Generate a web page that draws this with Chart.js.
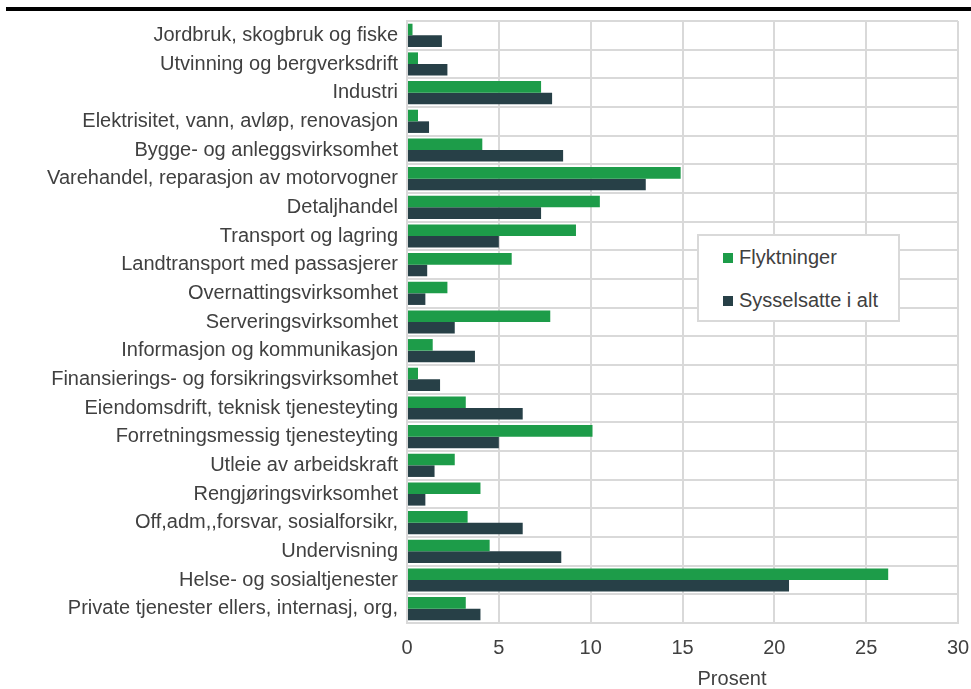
<!DOCTYPE html>
<html>
<head>
<meta charset="utf-8">
<script src="https://cdn.jsdelivr.net/npm/chart.js@4/dist/chart.umd.min.js"></script>
<style>
  html, body { margin: 0; padding: 0; background: #fff; }
  #wrap { position: relative; width: 971px; height: 689px; font-family: "Liberation Sans", Arial, sans-serif; color: #404040; }
  #topline { position: absolute; left: 6px; right: 0; top: 7px; height: 4px; background: #000; }
  #legend { position: absolute; left: 697px; top: 234px; width: 199px; height: 84px; border: 2px solid #d9d9d9; background: #fff; }
  .item { position: absolute; left: 24px; font-size: 20px; line-height: 24px; white-space: nowrap; }
  .item i { display: inline-block; width: 10px; height: 10px; margin-right: 6px; vertical-align: 1px; }
  #xtitle { position: absolute; left: 0; width: 1464px; top: 666px; text-align: center; font-size: 20px; line-height: 24px; }
</style>
</head>
<body>
<div id="wrap">
  <canvas id="c" width="971" height="689"></canvas>
  <div id="topline"></div>
  <div id="legend">
    <div class="item" style="top:9px"><i style="background:#1d9c49"></i>Flyktninger</div>
    <div class="item" style="top:52px"><i style="background:#274047"></i>Sysselsatte i alt</div>
  </div>
  <div id="xtitle">Prosent</div>
</div>
<script>
const categories = [
  'Jordbruk, skogbruk og fiske',
  'Utvinning og bergverksdrift',
  'Industri',
  'Elektrisitet, vann, avløp, renovasjon',
  'Bygge- og anleggsvirksomhet',
  'Varehandel, reparasjon av motorvogner',
  'Detaljhandel',
  'Transport og lagring',
  'Landtransport med passasjerer',
  'Overnattingsvirksomhet',
  'Serveringsvirksomhet',
  'Informasjon og kommunikasjon',
  'Finansierings- og forsikringsvirksomhet',
  'Eiendomsdrift, teknisk tjenesteyting',
  'Forretningsmessig tjenesteyting',
  'Utleie av arbeidskraft',
  'Rengjøringsvirksomhet',
  'Off,adm,,forsvar, sosialforsikr,',
  'Undervisning',
  'Helse- og sosialtjenester',
  'Private tjenester ellers, internasj, org,'
];
const flyktninger = [0.3, 0.6, 7.3, 0.6, 4.1, 14.9, 10.5, 9.2, 5.7, 2.2, 7.8, 1.4, 0.6, 3.2, 10.1, 2.6, 4.0, 3.3, 4.5, 26.2, 3.2];
const sysselsatte = [1.9, 2.2, 7.9, 1.2, 8.5, 13.0, 7.3, 5.0, 1.1, 1.0, 2.6, 3.7, 1.8, 6.3, 5.0, 1.5, 1.0, 6.3, 8.4, 20.8, 4.0];
const xTicks = [0, 5, 10, 15, 20, 25, 30];

const gridColor = '#d9d9d9';
const textColor = '#404040';
const font = { family: '"Liberation Sans", Arial, sans-serif', size: 20 };

new Chart(document.getElementById('c'), {
  type: 'bar',
  data: {
    labels: categories,
    datasets: [
      { label: 'Flyktninger', data: flyktninger, backgroundColor: '#1d9c49', categoryPercentage: 0.81, barPercentage: 1 },
      { label: 'Sysselsatte i alt', data: sysselsatte, backgroundColor: '#274047', categoryPercentage: 0.81, barPercentage: 1 }
    ]
  },
  options: {
    indexAxis: 'y', responsive: false, animation: false,
    layout: { padding: { top: 17, right: 13, left: 0, bottom: 0 } },
    plugins: { legend: { display: false }, tooltip: { enabled: false } },
    scales: {
      x: {
        min: 0, max: 30,
        afterBuildTicks: s => { s.ticks = xTicks.map(v => ({ value: v })); },
        afterFit: s => { s.height = 66; s.paddingLeft = 0; s.paddingRight = 0; },
        ticks: { color: textColor, font, padding: 13, maxRotation: 0 },
        grid: { color: gridColor, lineWidth: 2, drawTicks: false },
        border: { color: gridColor, width: 2 }
      },
      y: {
        afterFit: s => { s.width = 407; },
        ticks: { color: textColor, font, padding: 9, autoSkip: false },
        grid: { color: gridColor, lineWidth: 2, drawTicks: false },
        border: { color: gridColor, width: 2 }
      }
    }
  }
});
</script>
</body>
</html>
